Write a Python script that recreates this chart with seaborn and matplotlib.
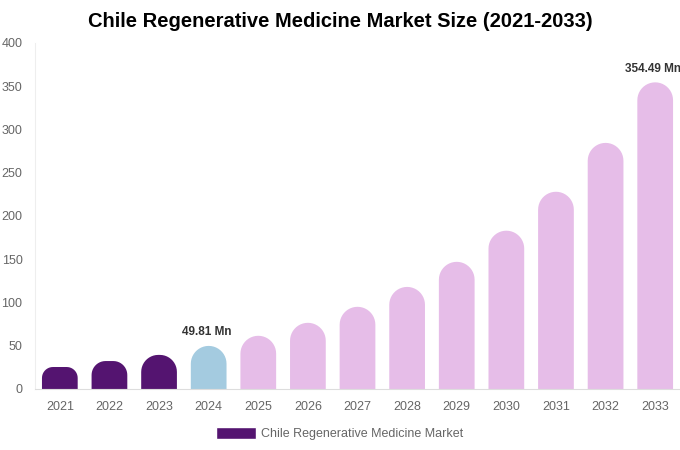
import numpy as np
import pandas as pd
import seaborn as sns
import matplotlib.pyplot as plt
from matplotlib.patches import PathPatch, Patch
from matplotlib.path import Path

years = ['2021', '2022', '2023', '2024', '2025', '2026', '2027', '2028', '2029', '2030', '2031', '2032', '2033']
values = [25.4, 32.3, 39.4, 49.81, 61.5, 76.5, 95.0, 118.0, 147.0, 183.0, 228.0, 284.5, 354.49]
kinds = ['hist', 'hist', 'hist', 'base', 'fc', 'fc', 'fc', 'fc', 'fc', 'fc', 'fc', 'fc', 'fc']
labels = {'2024': '49.81 Mn', '2033': '354.49 Mn'}
palette = {'hist': '#541470', 'base': '#a4cbe0', 'fc': '#e6bde8'}

df = pd.DataFrame({'Year': years, 'Value': values, 'Kind': kinds})

sns.set_style('white')
plt.rcParams['font.family'] = ['Liberation Sans', 'DejaVu Sans']

fig = plt.figure(figsize=(6.8, 4.5), dpi=100)
ax = fig.add_axes([0.0515, 0.1356, 0.9485, 0.7689])
sns.barplot(data=df, x='Year', y='Value', hue='Kind', palette=palette, saturation=1,
            width=0.72, dodge=False, legend=False, ax=ax)
ax.set_ylim(0, 400)
ax.set_xlim(-0.5, len(years) - 0.5)

# swap the square bars for ones with rounded tops
fig.canvas.draw()
sx = ax.transData.transform((1, 0))[0] - ax.transData.transform((0, 0))[0]
sy = ax.transData.transform((0, 1))[1] - ax.transData.transform((0, 0))[1]
bars = [p for p in ax.patches if p.get_height() > 0]
for p in bars:
    x0, w, h = p.get_x(), p.get_width(), p.get_height()
    r_px = min(w * sx / 2, h * sy / 2)
    rx, ry = r_px / sx, r_px / sy
    t1 = np.linspace(0, np.pi / 2, 12)
    t2 = np.linspace(np.pi / 2, np.pi, 12)
    pts = [(x0 + w, 0), (x0 + w, h - ry)]
    pts += [(x0 + w - rx + rx * np.cos(t), h - ry + ry * np.sin(t)) for t in t1]
    pts += [(x0 + rx + rx * np.cos(t), h - ry + ry * np.sin(t)) for t in t2]
    pts += [(x0, 0), (x0 + w, 0)]
    ax.add_patch(PathPatch(Path(pts), facecolor=p.get_facecolor(), edgecolor='none', zorder=2))
    p.set_visible(False)

for i, y in enumerate(years):
    if y in labels:
        ax.text(i - 0.04, values[i] + 9, labels[y], ha='center', va='bottom',
                fontsize=8.5, fontweight='bold', color='#333333', clip_on=False)

ax.set_xlabel('')
ax.set_ylabel('')
ax.set_yticks(range(0, 401, 50))
ax.tick_params(axis='both', colors='#666666', labelsize=9, length=0)
ax.tick_params(axis='x', pad=8.5)
ax.tick_params(axis='y', pad=9)
for s in ['top', 'right']:
    ax.spines[s].set_visible(False)
ax.spines['left'].set_color('#eeeeee')
ax.spines['bottom'].set_color('#dddddd')
ax.spines['left'].set_linewidth(0.8)
ax.spines['bottom'].set_linewidth(0.8)

fig.text(0.5, 0.953, 'Chile Regenerative Medicine Market Size (2021-2033)',
         ha='center', va='center', fontsize=14.5, fontweight='bold', color='#000000')

leg = fig.legend(handles=[Patch(facecolor='#541470', label='Chile Regenerative Medicine Market')],
                 loc='center', bbox_to_anchor=(0.5, 0.037), frameon=False,
                 fontsize=9, handlelength=3.2, handleheight=1.2, handletextpad=0.4)
for t in leg.get_texts():
    t.set_color('#666666')

fig.savefig('out.png', dpi=100)
